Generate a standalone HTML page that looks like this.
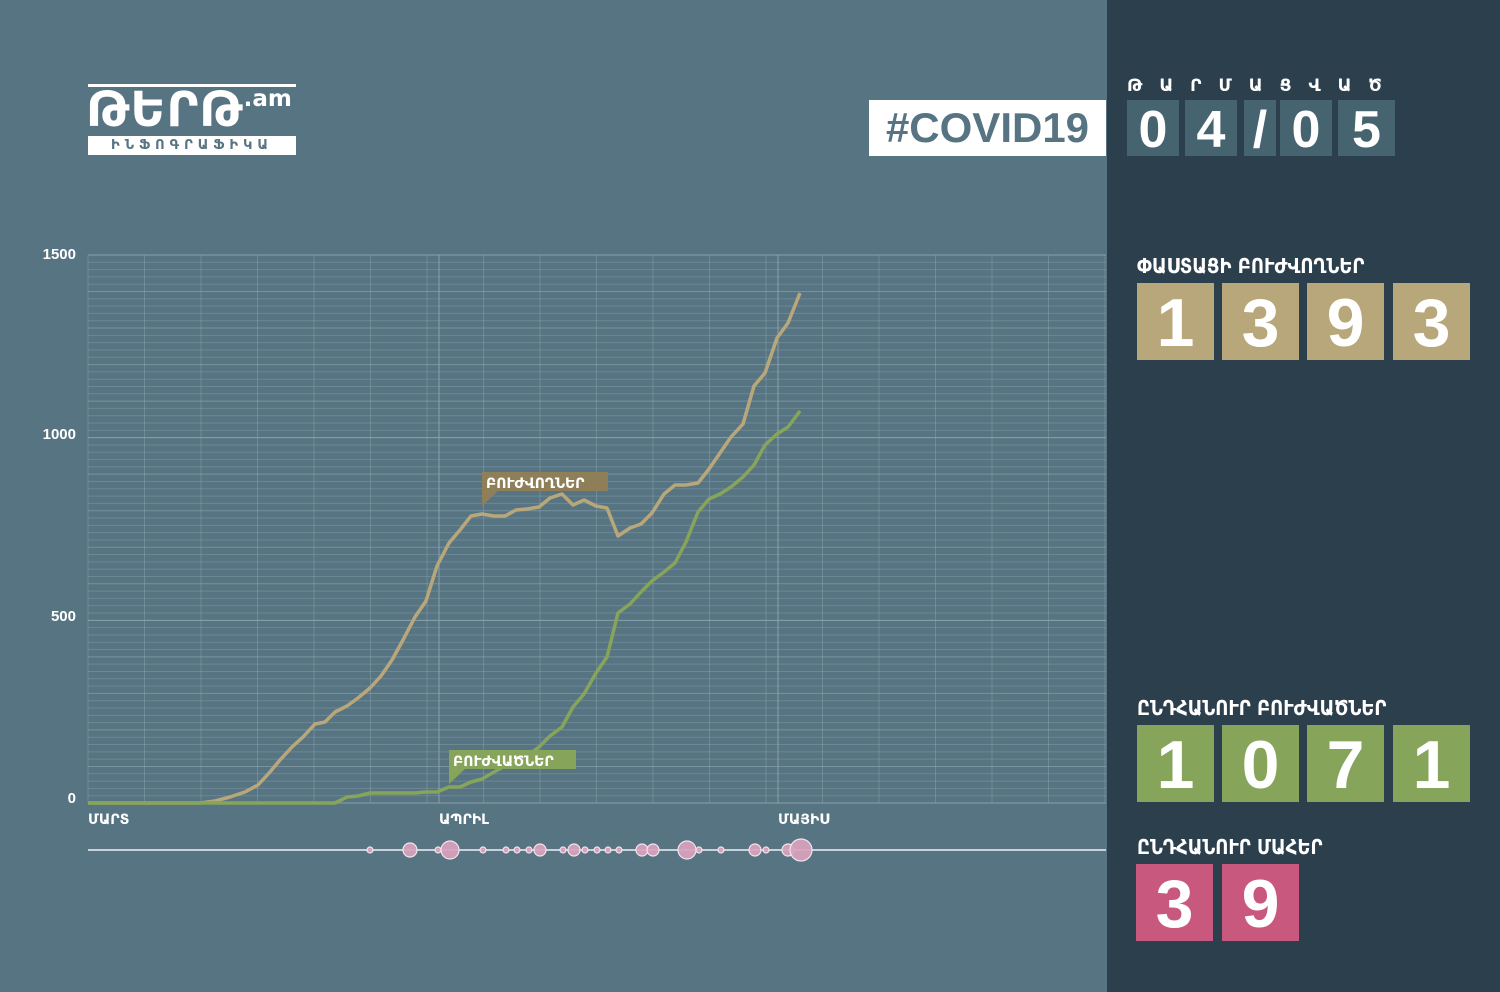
<!DOCTYPE html><html><head><meta charset="utf-8"><style>
body{margin:0;width:1500px;height:992px;overflow:hidden;background:#577482;font-family:"Liberation Sans","DejaVu Sans",sans-serif;position:relative}
.a{position:absolute}
.bx{position:absolute;width:77px;height:77px;color:#fff;font-weight:bold;font-size:68px;text-align:center;line-height:80px}
.db{position:absolute;top:100px;height:56px;background:#466370;color:#fff;font-weight:bold;font-size:52px;text-align:center;line-height:60px}
.lab{position:absolute;color:#fff;font-weight:bold;font-size:20px;font-family:"DejaVu Sans",sans-serif;transform:scaleX(0.9);transform-origin:0 0;white-space:nowrap}
</style></head><body>
<div class="a" style="left:1107px;top:0;width:393px;height:992px;background:#2c3f4d"></div>
<div class="a" style="left:88px;top:84px;width:208px;height:3px;background:#fff"></div>
<div class="a" style="left:86px;top:82px;color:#fff;font-weight:bold;font-size:48px;font-family:'DejaVu Sans',sans-serif;letter-spacing:1px;white-space:nowrap">ԹԵՐԹ<span style="font-size:23px;vertical-align:20px;letter-spacing:0">.am</span></div>
<div class="a" style="left:88px;top:136px;width:208px;height:19px;background:#fff;color:#577482;font-weight:bold;font-size:13px;line-height:19px;text-align:center;letter-spacing:5px;font-family:'DejaVu Sans',sans-serif">ԻՆՖՈԳՐԱՖԻԿԱ</div>
<div class="a" style="left:869px;top:100px;width:237px;height:56px;background:#fff;color:#577482;font-weight:bold;font-size:42px;line-height:56px;text-align:center">#COVID19</div>
<div class="a" style="left:1127px;top:76px;color:#fff;font-weight:bold;font-size:17px;letter-spacing:17px;font-family:'DejaVu Sans',sans-serif">ԹԱՐՄԱՑՎԱԾ</div>
<div class="db" style="left:1127px;width:52px">0</div>
<div class="db" style="left:1185px;width:52px">4</div>
<div class="db" style="left:1244px;width:32px">/</div>
<div class="db" style="left:1280px;width:52px">0</div>
<div class="db" style="left:1338px;width:57px">5</div>
<div class="lab" style="left:1137px;top:254px">ՓԱՍՏԱՑԻ ԲՈՒԺՎՈՂՆԵՐ</div>
<div class="bx" style="left:1137px;top:283px;background:#b8a77a">1</div>
<div class="bx" style="left:1222px;top:283px;background:#b8a77a">3</div>
<div class="bx" style="left:1307px;top:283px;background:#b8a77a">9</div>
<div class="bx" style="left:1393px;top:283px;background:#b8a77a">3</div>
<div class="lab" style="left:1137px;top:696px">ԸՆԴՀԱՆՈՒՐ ԲՈՒԺՎԱԾՆԵՐ</div>
<div class="bx" style="left:1137px;top:725px;background:#86a45a">1</div>
<div class="bx" style="left:1222px;top:725px;background:#86a45a">0</div>
<div class="bx" style="left:1307px;top:725px;background:#86a45a">7</div>
<div class="bx" style="left:1393px;top:725px;background:#86a45a">1</div>
<div class="lab" style="left:1137px;top:835px">ԸՆԴՀԱՆՈՒՐ ՄԱՀԵՐ</div>
<div class="bx" style="left:1136px;top:864px;background:#c9587f">3</div>
<div class="bx" style="left:1222px;top:864px;background:#c9587f">9</div>
<svg class="a" style="left:0;top:0" width="1107" height="992">
<g id="g" stroke="#8ea6b1" stroke-width="1"></g>
<g fill="#fff" font-weight="bold" font-size="15" font-family="Liberation Sans,sans-serif" text-anchor="end">
<text x="76" y="259">1500</text><text x="76" y="439">1000</text><text x="76" y="621">500</text><text x="76" y="803">0</text></g>
<g fill="#fff" font-weight="bold" font-size="14" font-family="DejaVu Sans,sans-serif">
<text x="88" y="824">ՄԱՐՏ</text><text x="439" y="824">ԱՊՐԻԼ</text><text x="778" y="824">ՄԱՅԻՍ</text></g>
<polyline fill="none" stroke="#b8a77a" stroke-width="3.5" stroke-linejoin="round" points="88,803 200,803 215,801 230,797 245,792 258,785 270,772 280,760 292,747 303,737 315,724 325,722 335,712 347,706 358,698 370,688 381,676 392,660 403,640 415,617 426,601 437,566 449,543 460,530 471,516 482,514 494,516 505,516 516,510 527,509 539,507 550,498 562,494 573,505 584,500 596,506 607,508 618,536 630,528 641,524 652,513 664,494 675,485 686,485 698,483 709,469 720,453 731,437 743,424 754,386 765,373 777,338 788,323 800,293"/>
<polyline fill="none" stroke="#86a45a" stroke-width="3.5" stroke-linejoin="round" points="88,803 335,803 347,797 358,796 370,793 381,793 392,793 403,793 415,793 426,792 437,792 449,787 460,787 471,782 482,779 494,772 505,766 516,761 527,756 539,747 550,736 562,727 573,707 584,694 596,673 607,657 618,613 630,604 641,592 652,581 664,572 675,563 686,542 698,512 709,499 720,494 731,487 743,477 754,465 765,445 777,434 788,427 800,411"/>
<path d="M482,472H608V491H498L482,506Z" fill="#8f7f58"/>
<text x="486" y="488" fill="#fff" font-weight="bold" font-size="14" font-family="DejaVu Sans,sans-serif">ԲՈՒԺՎՈՂՆԵՐ</text>
<path d="M449,750H576V769H465L449,784Z" fill="#86a45a"/>
<text x="453" y="766" fill="#fff" font-weight="bold" font-size="14" font-family="DejaVu Sans,sans-serif">ԲՈՒԺՎԱԾՆԵՐ</text>
<line x1="88" y1="850" x2="1106" y2="850" stroke="#c8d2d8" stroke-width="2"/>
<g id="b" fill="#d9a2bd" stroke="#f3e4ec" stroke-width="1.2" fill-opacity="0.92"></g>
</svg>
<script>
var g=document.getElementById('g'),s='';
for(var i=0;i<=75;i++){var y=803-i*7.307;var m=i%25==0;s+='<line x1="88" x2="1106" y1="'+y+'" y2="'+y+'" stroke-opacity="'+(m?0.9:(i%5==0?0.6:0.4))+'"/>';}
for(var k=0;k<=18;k++){var x=88+k*56.5;s+='<line y1="255" y2="803" x1="'+x+'" x2="'+x+'" stroke-opacity="0.45"/>';}
s+='<line y1="255" y2="803" x1="439" x2="439" stroke-opacity="0.9"/><line y1="255" y2="803" x1="778" x2="778" stroke-opacity="0.9"/>';
g.innerHTML=s;
var B=[[370,3],[410,7],[438,3],[450,9],[483,3],[506,3],[517,3],[529,3],[540,6],[563,3],[574,6],[585,3],[597,3],[608,3],[619,3],[642,6],[653,6],[687,9],[699,3],[721,3],[755,6],[766,3],[788,6],[801,11]],t='';
B.forEach(function(b){t+='<circle cx="'+b[0]+'" cy="850" r="'+b[1]+'"/>';});
document.getElementById('b').innerHTML=t;
</script>
</body></html>
